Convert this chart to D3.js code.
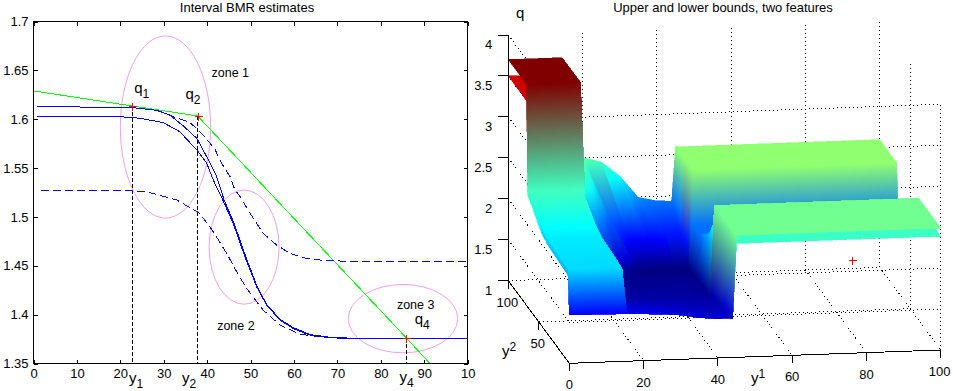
<!DOCTYPE html>
<html>
<head>
<meta charset="utf-8">
<script src="https://cdn.jsdelivr.net/npm/d3@7"></script>
<style>
  html, body { margin: 0; padding: 0; background: #fff; }
  svg { display: block; }
  text { font-family: "Liberation Sans", Arial, sans-serif; fill: #000; }
</style>
</head>
<body>
<div id="chart"></div>
<script>
// left panel data
const xTicks = [0, 10, 20, 30, 40, 50, 60, 70, 80, 90, 100];
const xTickLabels = ['0', '10', '20', '30', '40', '50', '60', '70', '80', '90', '10'];
const yTicks = [1.35, 1.4, 1.45, 1.5, 1.55, 1.6, 1.65, 1.7];

const greenLine = [[0, 1.629], [22.8, 1.6135], [37.8, 1.6033], [85.9, 1.376], [91.3, 1.35]];
const solidUpper = [[0.9, 1.6132], [14.6, 1.6122], [23, 1.6118], [28.4, 1.6091], [31.4, 1.6043], [34.5, 1.5931],
  [37.6, 1.5805], [39.9, 1.5616], [42.2, 1.5411], [43.9, 1.5173], [46.2, 1.4934], [48.9, 1.4592], [51.5, 1.4285],
  [53.8, 1.4097], [56.9, 1.3948], [59.9, 1.3865], [63.8, 1.3795], [69, 1.3765], [76.7, 1.3755], [100, 1.3755]];
const solidLower = [[0.9, 1.6026], [19.9, 1.6026], [24.5, 1.601], [29.9, 1.5965], [33.7, 1.5872], [37.6, 1.5685],
  [39.9, 1.5549], [41.4, 1.5378], [43.6, 1.5173], [46, 1.4934], [48.7, 1.4592], [51.4, 1.4285], [53.7, 1.4097],
  [56.8, 1.3944], [59.8, 1.3858], [63.7, 1.379], [69, 1.3762], [76.7, 1.3755], [100, 1.3755]];
const dashedUpper = [[28.4, 1.6091], [32.2, 1.6026], [36, 1.5969], [39.1, 1.5838], [41.8, 1.5692], [43.3, 1.5549],
  [45.3, 1.5411], [46.4, 1.5275], [47.6, 1.5207], [49.9, 1.5036], [52.9, 1.4832], [56, 1.4712], [59.1, 1.4627],
  [62.1, 1.4582], [66.7, 1.4555], [71.3, 1.4548], [100, 1.4541]];
const dashedLower = [[1.7, 1.5275], [20.7, 1.5275], [26, 1.5258], [33, 1.5173], [38.3, 1.5036], [41.4, 1.4849],
  [44.5, 1.4627], [46.8, 1.4438], [49.1, 1.4268], [52.9, 1.4046], [56.8, 1.3892], [61.4, 1.38], [66.7, 1.3769],
  [71.3, 1.3757], [100, 1.3755]];
const markers = [[22.8, 1.6135], [37.8, 1.6033], [85.9, 1.376]];
const zoneEllipses = [[30.4, 1.592, 10.4, 0.0932], [48.5, 1.4691, 8.06, 0.0584], [85.1, 1.3959, 12.6, 0.035]];
const zoneLabels = [['zone 1', 41, 1.6435], ['zone 2', 42.3, 1.3847], ['zone 3', 83.7, 1.4057]];
const pointLabels = [['q', '1', 23.2, 1.6265], ['q', '2', 35, 1.6205], ['q', '4', 87.8, 1.39]];
const dropLabels = [['y', '1', 22, 1.3305], ['y', '2', 34.2, 1.3305], ['y', '4', 84.3, 1.331]];

// right panel data: height grid, rows follow ys, columns follow xs
const xs = [0, 14.5, 15.5, 20, 25, 30, 35, 40, 44, 45, 100];
const ys = [100, 85, 72, 70, 68, 60, 52, 45, 37.5, 36, 18, 2, 0];
const upperZ = [
  [3.7, 3.7, 2.5, 2.47, 2.41, 2.23, 1.96, 1.91, 1.9, 2.56, 2.56],
  [3.7, 3.7, 2.45, 2.25, 1.85, 1.6, 1.6, 1.65, 1.65, 2.56, 2.56],
  [3.7, 3.7, 2.3, 1.9, 1.5, 1.38, 1.36, 1.36, 1.36, 2.56, 2.56],
  [3.7, 3.7, 2.25, 1.85, 1.45, 1.36, 1.36, 1.36, 1.36, 1.9, 1.9],
  [2.41, 2.41, 2.2, 1.7, 1.4, 1.37, 1.37, 1.37, 1.37, 1.9, 1.9],
  [2.35, 2.35, 1.6, 1.45, 1.38, 1.38, 1.38, 1.38, 1.37, 1.9, 1.9],
  [2.27, 2.27, 1.4, 1.4, 1.39, 1.39, 1.39, 1.39, 1.38, 1.98, 1.98],
  [2.2, 2.2, 1.4, 1.4, 1.4, 1.4, 1.4, 1.4, 1.39, 2.05, 2.05],
  [2.17, 2.17, 1.41, 1.41, 1.41, 1.41, 1.41, 1.4, 1.39, 2.25, 2.25],
  [2.16, 2.16, 1.41, 1.41, 1.41, 1.41, 1.41, 1.41, 1.4, 2.49, 2.49],
  [2.14, 2.14, 1.48, 1.48, 1.47, 1.46, 1.45, 1.44, 1.44, 2.49, 2.49],
  [2.12, 2.12, 1.56, 1.56, 1.55, 1.53, 1.5, 1.48, 1.48, 2.49, 2.49],
  [1.59, 1.58, 1.58, 1.57, 1.56, 1.54, 1.5, 1.48, 1.48, 2.49, 2.49]
];
const lowerZ = [
  [3.5, 3.5, 2.42, 2.42, 2.36, 2.18, 1.92, 1.86, 1.86, 2.46, 2.46],
  [3.5, 3.5, 2.4, 2.2, 1.8, 1.58, 1.58, 1.62, 1.62, 2.46, 2.46],
  [3.5, 3.5, 2.25, 1.86, 1.48, 1.37, 1.36, 1.36, 1.36, 2.46, 2.46],
  [3.5, 3.5, 2.2, 1.8, 1.43, 1.36, 1.36, 1.36, 1.36, 1.86, 1.86],
  [2.36, 2.36, 2.15, 1.66, 1.39, 1.37, 1.37, 1.37, 1.37, 1.86, 1.86],
  [2.29, 2.29, 1.56, 1.43, 1.38, 1.38, 1.38, 1.38, 1.37, 1.86, 1.86],
  [2.2, 2.2, 1.4, 1.4, 1.39, 1.39, 1.39, 1.39, 1.38, 1.94, 1.94],
  [2.13, 2.13, 1.4, 1.4, 1.4, 1.4, 1.4, 1.4, 1.39, 2.0, 2.0],
  [2.1, 2.1, 1.41, 1.41, 1.41, 1.41, 1.41, 1.4, 1.39, 2.2, 2.2],
  [2.09, 2.09, 1.41, 1.41, 1.41, 1.41, 1.41, 1.41, 1.4, 2.39, 2.39],
  [2.07, 2.07, 1.48, 1.48, 1.47, 1.46, 1.45, 1.44, 1.44, 2.39, 2.39],
  [2.05, 2.05, 1.56, 1.56, 1.55, 1.53, 1.5, 1.48, 1.48, 2.39, 2.39],
  [1.59, 1.58, 1.58, 1.57, 1.56, 1.54, 1.5, 1.48, 1.48, 2.39, 2.39]
];
const colorZ = [1.35, 1.48, 1.6, 1.9, 2.2, 2.41, 2.49, 2.56, 3.0, 3.3, 3.5, 3.7];
const colorHex = ['#000078', '#0000d0', '#0000ff', '#0070ff', '#00ffff', '#40ffc0', '#70ff90', '#90ff70',
  '#ffff00', '#ff6000', '#d00000', '#800000'];
const x3Ticks = [0, 20, 40, 60, 80, 100];
const y3Ticks = [0, 50, 100];
const z3Ticks = [1, 1.5, 2, 2.5, 3, 3.5, 4];
const marker3 = [76.1, 0, 2.14];

const svg = d3.select('#chart').append('svg').attr('width', 953).attr('height', 391);

// ---------- left panel ----------
const x = d3.scaleLinear().domain([0, 100]).range([33.5, 467.7]);
const y = d3.scaleLinear().domain([1.35, 1.7]).range([363.5, 21.5]);
const left = svg.append('g');

left.append('text').attr('x', 247).attr('y', 12).attr('text-anchor', 'middle').style('font-size', '13px')
  .text('Interval BMR estimates');

const line = d3.line().x(d => x(d[0])).y(d => y(d[1]));
function addPath(data, color, dash) {
  left.append('path').attr('d', line(data)).attr('fill', 'none').attr('stroke', color).attr('stroke-width', 1)
    .attr('stroke-dasharray', dash || null).style('shape-rendering', 'crispEdges');
}
function plus(parent, px, py) {
  const a = Math.round(px) + 0.5, b = Math.round(py) + 0.5;
  parent.append('path').attr('d', `M${a - 4},${b}H${a + 4}M${a},${b - 4}V${b + 4}`)
    .attr('stroke', '#ff0000').attr('fill', 'none').style('shape-rendering', 'crispEdges');
}

left.selectAll('ellipse').data(zoneEllipses).join('ellipse')
  .attr('cx', d => x(d[0])).attr('cy', d => y(d[1]))
  .attr('rx', d => x(d[2]) - x(0)).attr('ry', d => y(0) - y(d[3]))
  .attr('fill', 'none').attr('stroke', '#ee9fee').attr('stroke-width', 1);

markers.forEach(m => {
  left.append('line').attr('x1', x(m[0])).attr('x2', x(m[0])).attr('y1', y(m[1])).attr('y2', y(1.35))
    .attr('stroke', '#000').attr('stroke-dasharray', '4 2').style('shape-rendering', 'crispEdges');
});

addPath(greenLine, '#00ff00');
addPath(solidUpper, '#0000ff');
addPath(solidLower, '#0000ff');
addPath(dashedUpper, '#0000ff', '8 4');
addPath(dashedLower, '#0000ff', '8 4');

markers.forEach(m => plus(left, x(m[0]), y(m[1])));

left.selectAll('.zone').data(zoneLabels).join('text').attr('class', 'zone')
  .attr('x', d => x(d[1])).attr('y', d => y(d[2])).style('font-size', '12.5px').text(d => d[0]);

function subLabel(parent, d, px, py) {
  const t = parent.append('text').attr('x', px).attr('y', py).style('font-size', '15px');
  t.append('tspan').text(d[0]);
  t.append('tspan').attr('dy', 5).style('font-size', '12px').text(d[1]);
}
pointLabels.forEach(d => subLabel(left, d, x(d[2]), y(d[3])));
dropLabels.forEach(d => subLabel(left, d, x(d[2]), y(d[3])));

left.append('rect').attr('x', 33.5).attr('y', 21.5).attr('width', 434.2).attr('height', 342)
  .attr('fill', 'none').attr('stroke', '#000').style('shape-rendering', 'crispEdges');

const axisBottom = d3.axisBottom(x).tickValues(xTicks).tickFormat((d, i) => xTickLabels[i]).tickSize(-4).tickPadding(5);
const axisTop = d3.axisTop(x).tickValues(xTicks).tickFormat('').tickSize(-4);
const axisLeft = d3.axisLeft(y).tickValues(yTicks).tickFormat(d3.format('.4~f')).tickSize(-4).tickPadding(5);
const axisRight = d3.axisRight(y).tickValues(yTicks).tickFormat('').tickSize(-4);
[[axisBottom, 0, 363.5], [axisTop, 0, 21.5], [axisLeft, 33.5, 0], [axisRight, 467.7, 0]].forEach(a => {
  const g = left.append('g').attr('transform', `translate(${a[1]},${a[2]})`).call(a[0]);
  g.select('.domain').remove();
  g.selectAll('line').attr('stroke', '#000').style('shape-rendering', 'crispEdges');
  g.selectAll('text').attr('fill', '#000').style('font-size', '13px').style('font-family', '"Liberation Sans", Arial, sans-serif');
});

// ---------- right panel ----------
const pxFromX = d3.scaleLinear().domain([0, 100]).range([0, 371.4]);
const pxFromY = d3.scaleLinear().domain([0, 100]).range([0, -61]);
const pyFromX = d3.scaleLinear().domain([0, 100]).range([0, -13.3]);
const pyFromY = d3.scaleLinear().domain([0, 100]).range([0, -82.6]);
const pyFromZ = d3.scaleLinear().domain([1, 4]).range([0, -245.7]);
const proj = (a, b, c) => [569.3 + pxFromX(a) + pxFromY(b), 363.3 + pyFromX(a) + pyFromY(b) + pyFromZ(c)];
const colorOf = d3.scaleLinear().domain(colorZ).range(colorHex);

const right = svg.append('g');
right.append('text').attr('x', 723).attr('y', 12).attr('text-anchor', 'middle').style('font-size', '13px')
  .text('Upper and lower bounds, two features');

function grid3(a, b) {
  const p = proj(...a), q = proj(...b);
  right.append('line').attr('x1', p[0]).attr('y1', p[1]).attr('x2', q[0]).attr('y2', q[1])
    .attr('stroke', '#000').attr('stroke-dasharray', '1 3').style('shape-rendering', 'crispEdges');
}
z3Ticks.slice(1).forEach(z => {
  grid3([0, 100, z], [0, 0, z]);
  grid3([0, 0, z], [100, 0, z]);
});
x3Ticks.slice(1).forEach(v => {
  grid3([v, 100, 1], [v, 100, 4]);
  grid3([v, 100, 1], [v, 0, 1]);
});
y3Ticks.slice(0, 2).forEach(v => grid3([100, v, 1], [100, v, 4]));
grid3([0, 100, 1], [100, 100, 1]);
grid3([0, 50, 1], [100, 50, 1]);

// one triangle, filled with a gradient between its vertex colours
const defs = svg.append('defs');
let gradId = 0;
function triangle(parent, pts) {
  const s = pts.map(d => ({ p: proj(d[0], d[1], d[2]), z: d[2] })).sort((a, b) => a.z - b.z);
  const zLo = s[0].z, zMid = s[1].z, zHi = s[2].z;
  const d = `M${s[0].p}L${s[1].p}L${s[2].p}Z`;
  let paint = colorOf(zLo);
  if (zHi - zLo > 1e-6) {
    const f = (zMid - zLo) / (zHi - zLo);
    const qx = s[0].p[0] + (s[2].p[0] - s[0].p[0]) * f;
    const qy = s[0].p[1] + (s[2].p[1] - s[0].p[1]) * f;
    let nx = -(s[1].p[1] - qy), ny = s[1].p[0] - qx;
    if (Math.hypot(nx, ny) < 1e-6) { nx = s[2].p[0] - s[0].p[0]; ny = s[2].p[1] - s[0].p[1]; }
    const k = ((s[2].p[0] - s[0].p[0]) * nx + (s[2].p[1] - s[0].p[1]) * ny) / (nx * nx + ny * ny);
    const id = 'g' + (gradId++);
    const g = defs.append('linearGradient').attr('id', id).attr('gradientUnits', 'userSpaceOnUse')
      .attr('x1', s[0].p[0]).attr('y1', s[0].p[1])
      .attr('x2', s[0].p[0] + nx * k).attr('y2', s[0].p[1] + ny * k);
    g.append('stop').attr('offset', 0).attr('stop-color', colorOf(zLo));
    g.append('stop').attr('offset', f).attr('stop-color', colorOf(zMid));
    g.append('stop').attr('offset', 1).attr('stop-color', colorOf(zHi));
    paint = `url(#${id})`;
  }
  parent.append('path').attr('d', d).attr('fill', paint).attr('stroke', paint).attr('stroke-width', 0.6);
}

function drawSurface(zs) {
  const g = right.append('g').style('shape-rendering', 'crispEdges');
  // far rows first, and inside a row from high x to low x
  for (let r = 0; r < ys.length - 1; r++) {
    for (let c = xs.length - 2; c >= 0; c--) {
      const a = [xs[c], ys[r], zs[r][c]];
      const b = [xs[c + 1], ys[r], zs[r][c + 1]];
      const e = [xs[c + 1], ys[r + 1], zs[r + 1][c + 1]];
      const f = [xs[c], ys[r + 1], zs[r + 1][c]];
      triangle(g, [a, b, e]);
      triangle(g, [a, e, f]);
    }
  }
}
drawSurface(lowerZ);
drawSurface(upperZ);

const mk = proj(...marker3);
plus(right, mk[0], mk[1]);

// axes
function solid3(a, b) {
  right.append('line').attr('x1', a[0]).attr('y1', a[1]).attr('x2', b[0]).attr('y2', b[1])
    .attr('stroke', '#000').style('shape-rendering', 'crispEdges');
}
solid3(proj(0, 0, 1), proj(100, 0, 1));
solid3(proj(0, 0, 1), proj(0, 100, 1));
solid3(proj(0, 100, 1), proj(0, 100, 4));

function tickText(px, py, label, anchor) {
  right.append('text').attr('x', px).attr('y', py).attr('text-anchor', anchor).style('font-size', '13px').text(label);
}
x3Ticks.forEach(v => {
  const p = proj(v, 0, 1);
  solid3(p, [p[0], p[1] + 8]);
  tickText(p[0] - (v === 100 ? 1 : 0), p[1] + 26, v, 'middle');
});
y3Ticks.slice(1).forEach(v => {
  const p = proj(0, v, 1);
  solid3(p, [p[0], p[1] + 8]);
  tickText(p[0] - 1, p[1] + 26, v, 'middle');
});
z3Ticks.forEach(v => {
  const p = proj(0, 100, v);
  solid3(p, [p[0] - 10, p[1]]);
  tickText(p[0] - 16, p[1] + 14, v, 'end');
});

right.append('text').attr('x', 516).attr('y', 18).style('font-size', '15px').text('q');
[['y', '2', 502, 356], ['y', '1', 751, 383]].forEach(d => {
  const t = right.append('text').attr('x', d[2]).attr('y', d[3]).style('font-size', '15px');
  t.append('tspan').text(d[0]);
  t.append('tspan').attr('dy', -5).style('font-size', '12px').text(d[1]);
});
</script>
</body>
</html>
